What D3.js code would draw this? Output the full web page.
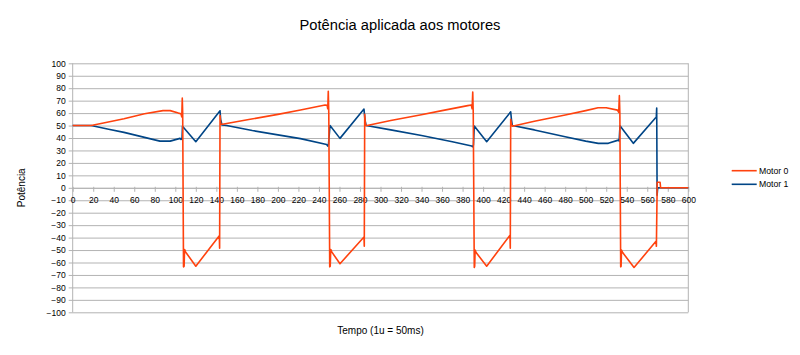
<!DOCTYPE html>
<html><head><meta charset="utf-8">
<script src="https://cdn.jsdelivr.net/npm/d3@7/dist/d3.min.js"></script>
<style>body{margin:0;background:#fff}svg{display:block}text{font-family:"Liberation Sans",Arial,sans-serif;fill:#000}</style>
</head><body><svg id="chart" width="800" height="355"></svg>
<script>
// ---- data ----
const chartTitle = "Potência aplicada aos motores";
const yAxisTitle = "Potência";
const xAxisTitle = "Tempo (1u = 50ms)";
const seriesNames = ["Motor 0", "Motor 1"];
const seriesColors = ["#ff420e", "#004586"];
const xTickValues = [0,20,40,60,80,100,120,140,160,180,200,220,240,260,280,300,320,340,360,380,400,420,440,460,480,500,520,540,560,580,600];
const yTickValues = [-100,-90,-80,-70,-60,-50,-40,-30,-20,-10,0,10,20,30,40,50,60,70,80,90,100];

// Motor 0: [tempo, potência]
const motor0 = [
  [0,50],[18,50],[30,52],[50,55.5],[70,59.5],[88,62],[95,62],[103,60],[105.5,59.5],[106.3,57],
  [106.8,72],[107.2,60],[108,-63.5],[108.6,-63],[109,-49.5],[110,-51.5],[120,-63],[142.9,-38.5],[143.2,-48.5],
  [143.6,58],[144.3,51],[146,51],[173,55],[200,59],[222,62.5],[246,66.5],[248,66.3],[248.6,63.5],
  [249.1,77.5],[249.6,60],[250.5,-63.5],[251,-63],[251.5,-49.5],[252.5,-51.5],[260.5,-61],[283.9,-39.5],[284.2,-47],
  [284.6,59],[285.4,50],[287,50],[310,54],[338.5,58.5],[360,62],[385,66],[388.5,66.5],[389.3,63.5],
  [389.9,77],[390.4,60],[391.4,-64],[391.8,-63],[392.2,-50],[393.2,-52],[403.5,-63],[426.2,-38],[426.5,-48.5],
  [426.9,55],[427.6,51],[428.5,49.5],[450,53.5],[480,58.5],[500,62],[512,64.3],[520,64.3],[531,62.4],[532.2,60.5],
  [532.8,74],[533.3,60],[534.1,-63.5],[534.5,-63],[534.9,-50],[536,-52],[547.1,-64],[568.5,-43],[568.9,-47],
  [569.7,4.5],[572.5,4.5],[573,0],[600,0]
];

// Motor 1: [tempo, potência]
const motor1 = [
  [0,50],[18,50],[35,47],[50,44.5],[70,40.5],[85,37.5],[95,37.5],[104.6,39.7],[105.6,38.8],[106.6,40],
  [107,49.5],[120,37],[143.6,61.9],[144.2,55],[145.5,50.4],[150,50],[175,46],[200,42.5],[222,39.5],[247.5,34.8],[248.6,33.5],[249.3,35],
  [250.8,50],[260.5,39.7],[283.9,63.2],[284.8,55],[286,50],[310,46.5],[340,42],[370,37],[388.9,33.5],[389.8,33],[390.6,34.5],
  [391.4,49.6],[403.5,37],[426.9,61],[427.6,55],[428.5,50],[450,46.5],[480,41],[500,37.5],[512.3,35.7],[522,35.7],[531.8,38.3],[532.6,37.5],
  [533.4,49.8],[546.4,35.7],[567.5,55.7],[568.8,56.5],[569.2,64],[569.6,-6],[570.2,0],[600,0]
];

// ---- drawing ----
const svg = d3.select("#chart");
const x = d3.scaleLinear().domain([0, 600]).range([72.7, 688.3]);
const y = d3.scaleLinear().domain([-100, 100]).range([312.3, 63.3]);
const gridColor = "#b3b3b3";

// horizontal gridlines + y axis
const yAxis = d3.axisLeft(y).tickValues(yTickValues).tickSize(4).tickSizeOuter(0).tickPadding(3);
const gy = svg.append("g").attr("transform", `translate(${x(0)},0)`).call(yAxis);
gy.select(".domain").remove();
gy.selectAll(".tick line").attr("x1", -4).attr("x2", x(600) - x(0)).attr("stroke", gridColor);
gy.selectAll(".tick text").attr("font-size", "8.5px").attr("font-family", "Liberation Sans, Arial, sans-serif").attr("fill", "#000");

// left and right frame lines
svg.append("line").attr("x1", x(0)).attr("x2", x(0)).attr("y1", y(100)).attr("y2", y(-100)).attr("stroke", gridColor);
svg.append("line").attr("x1", x(600)).attr("x2", x(600)).attr("y1", y(100)).attr("y2", y(-100)).attr("stroke", gridColor);

// x axis at y=0
const xAxis = d3.axisBottom(x).tickValues(xTickValues).tickSize(4).tickSizeOuter(0).tickPadding(5);
const gx = svg.append("g").attr("transform", `translate(0,${y(0)})`).call(xAxis);
gx.select(".domain").attr("stroke", gridColor);
gx.selectAll(".tick line").attr("stroke", gridColor).attr("y1", -1);
gx.selectAll(".tick text").attr("font-size", "8.5px").attr("font-family", "Liberation Sans, Arial, sans-serif").attr("fill", "#000");

// series lines
const line = d3.line().x(d => x(d[0])).y(d => y(d[1]));
const clipY = svg.append("g");
[motor1, motor0].forEach((data, i) => {
  const col = i === 0 ? seriesColors[1] : seriesColors[0];
  clipY.append("path").datum(data).attr("d", line)
    .attr("fill", "none").attr("stroke", col).attr("stroke-width", 1.6)
    .attr("stroke-linejoin", "round").attr("stroke-linecap", "butt");
});

// titles
svg.append("text").attr("x", 400).attr("y", 30).attr("text-anchor", "middle")
  .attr("font-size", "14.7px").text(chartTitle);
svg.append("text").attr("transform", `translate(25,${y(0)}) rotate(-90)`).attr("text-anchor", "middle")
  .attr("font-size", "10px").text(yAxisTitle);
svg.append("text").attr("x", (x(0) + x(600)) / 2).attr("y", 334).attr("text-anchor", "middle")
  .attr("font-size", "10px").text(xAxisTitle);

// legend
const legY = [170.7, 184.3];
seriesNames.forEach((name, i) => {
  svg.append("line").attr("x1", 731.7).attr("x2", 756.7).attr("y1", legY[i]).attr("y2", legY[i])
    .attr("stroke", seriesColors[i]).attr("stroke-width", 1.6);
  svg.append("text").attr("x", 759).attr("y", legY[i]).attr("dy", "0.35em")
    .attr("font-size", "8.7px").text(name);
});
</script></body></html>
